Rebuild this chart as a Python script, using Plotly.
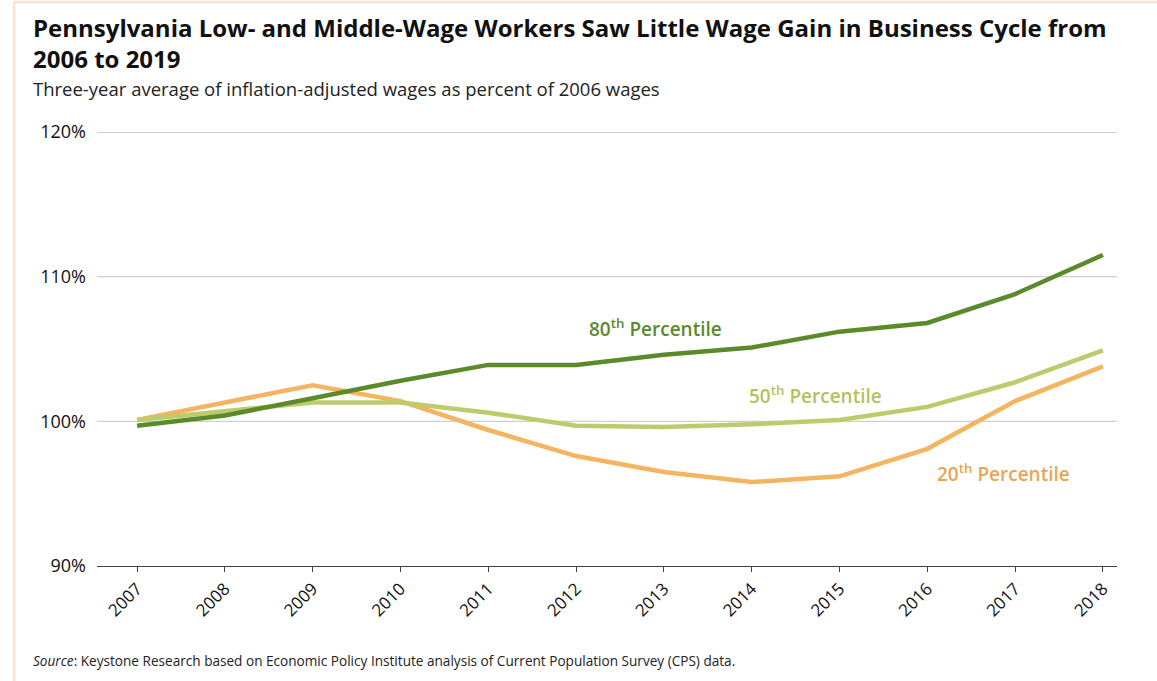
import plotly.graph_objects as go

years = [2007, 2008, 2009, 2010, 2011, 2012, 2013, 2014, 2015, 2016, 2017, 2018]
p80 = [99.7, 100.4, 101.6, 102.8, 103.9, 103.9, 104.6, 105.1, 106.2, 106.8, 108.8, 111.5]
p50 = [100.1, 100.7, 101.3, 101.3, 100.6, 99.7, 99.6, 99.8, 100.1, 101.0, 102.7, 104.9]
p20 = [100.1, 101.3, 102.5, 101.4, 99.4, 97.6, 96.5, 95.8, 96.2, 98.1, 101.4, 103.8]
y_ticks = [90, 100, 110, 120]
y_tick_labels = ["90%", "100%", "110%", "120%"]

C80 = "#5b8a2b"
C50 = "#bccb6c"
C20 = "#f5b45f"
FONT = "Open Sans"

W, H = 1157, 681
ML, MR, MT, MB = 97, 40, 132, 115
PW, PH = W - ML - MR, H - MT - MB


def px_x(x):
    return (x - ML) / PW


def px_y(y):
    return 1 - (y - MT) / PH


fig = go.Figure()
for vals, col in [(p20, C20), (p50, C50), (p80, C80)]:
    fig.add_trace(go.Scatter(x=years, y=vals, mode="lines",
                             line=dict(color=col, width=4.5),
                             showlegend=False, hoverinfo="skip"))

# gridlines drawn as shapes so the 120% line can be darker
for v, col in [(100, "#cfcfcf"), (110, "#cfcfcf"), (120, "#a0a0a0")]:
    fig.add_shape(type="line", xref="paper", yref="y", x0=0, x1=1, y0=v, y1=v,
                  line=dict(color=col, width=1.2), layer="below")

annos = [
    dict(text="80<sup>th</sup> Percentile", x=2012.9, y=106.45, color=C80),
    dict(text="50<sup>th</sup> Percentile", x=2014.73, y=101.8, color="#b3c25e"),
    dict(text="20<sup>th</sup> Percentile", x=2016.87, y=96.4, color="#eaa552"),
]
for a in annos:
    fig.add_annotation(x=a["x"], y=a["y"], xref="x", yref="y", text=a["text"],
                       showarrow=False, xanchor="center", yanchor="middle",
                       font=dict(family=FONT, size=19, color=a["color"], weight=600))

fig.add_annotation(x=px_x(31), y=px_y(43), xref="paper", yref="paper",
                   text="<b>Pennsylvania Low- and Middle-Wage Workers Saw Little Wage Gain in Business Cycle from<br>2006 to 2019</b>",
                   showarrow=False, xanchor="left", yanchor="middle", align="left",
                   font=dict(family=FONT, size=24, color="#111111"))
fig.add_annotation(x=px_x(31), y=px_y(88), xref="paper", yref="paper",
                   text="Three-year average of inflation-adjusted wages as percent of 2006 wages",
                   showarrow=False, xanchor="left", yanchor="middle",
                   font=dict(family=FONT, size=18.5, color="#222222"))
fig.add_annotation(x=px_x(31), y=px_y(660), xref="paper", yref="paper",
                   text="<i>Source</i>: Keystone Research based on Economic Policy Institute analysis of Current Population Survey (CPS) data.",
                   showarrow=False, xanchor="left", yanchor="middle",
                   font=dict(family=FONT, size=13.6, color="#222222"))

# frame edges
BC = "#fbe3d2"
fig.add_shape(type="line", xref="paper", yref="paper",
              x0=px_x(14), x1=px_x(14), y0=px_y(H + 5), y1=px_y(2),
              line=dict(color=BC, width=2.5))
fig.add_shape(type="line", xref="paper", yref="paper",
              x0=px_x(14), x1=px_x(W + 5), y0=px_y(2), y1=px_y(2),
              line=dict(color=BC, width=2.5))

fig.update_layout(
    width=W, height=H,
    margin=dict(l=ML, r=MR, t=MT, b=MB),
    paper_bgcolor="white", plot_bgcolor="white",
    xaxis=dict(range=[2006.544, 2018.16], tickmode="array", tickvals=years,
               ticktext=[str(y) for y in years], tickangle=-45,
               showgrid=False, zeroline=False, showline=True,
               linecolor="#444444", linewidth=1.2,
               ticks="outside", ticklen=5, tickcolor="#444444",
               tickfont=dict(family=FONT, size=17, color="#111111")),
    yaxis=dict(range=[90, 120], tickmode="array", tickvals=y_ticks,
               ticktext=y_tick_labels, showgrid=False, zeroline=False,
               showline=False, ticks="", ticklabelstandoff=10,
               tickfont=dict(family=FONT, size=18, color="#111111")),
)

fig.write_html("out.html")
